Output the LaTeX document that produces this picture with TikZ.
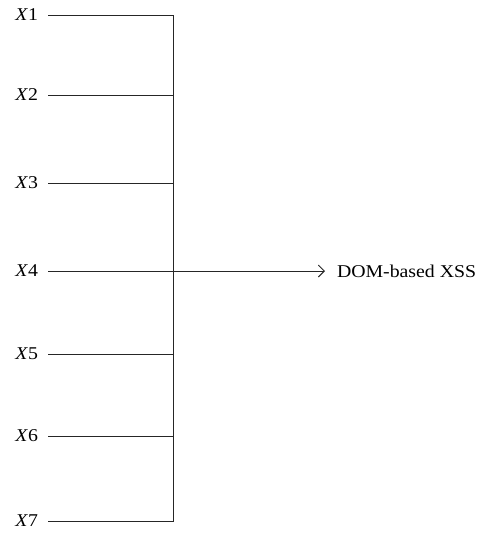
\documentclass[tikz,border=0pt]{standalone}
\usepackage{fontspec}
\setmainfont{Liberation Serif}[FakeStretch=1.1]
\usetikzlibrary{arrows.meta}
\begin{document}
\begin{tikzpicture}[x=1pt,y=-1pt,
  wire/.style={line width=0.9pt,draw=black!85},
  inlabel/.style={anchor=east,inner sep=0pt,outer xsep=10pt,font=\fontsize{18}{20}\selectfont},
  outlabel/.style={anchor=west,inner sep=0pt,outer xsep=12pt,font=\fontsize{18}{20}\selectfont}]
\useasboundingbox (0,0) rectangle (485,533);
\foreach \i/\y in {1/15,2/95,3/183,4/271,5/354,6/436,7/521}{
  \node[inlabel] (x\i) at (48,\y) {\textit{X}\i};
  \coordinate (j\i) at (173.5,\y);
  \draw[wire] (x\i.east) -- (j\i);
}
\draw[wire] (j1) -- (j7);
\node[outlabel] (out) at (325,271) {DOM-based XSS};
\draw[wire,-{Straight Barb[length=6pt,width=12pt]}] (j4) -- (out.west);
\end{tikzpicture}
\end{document}
